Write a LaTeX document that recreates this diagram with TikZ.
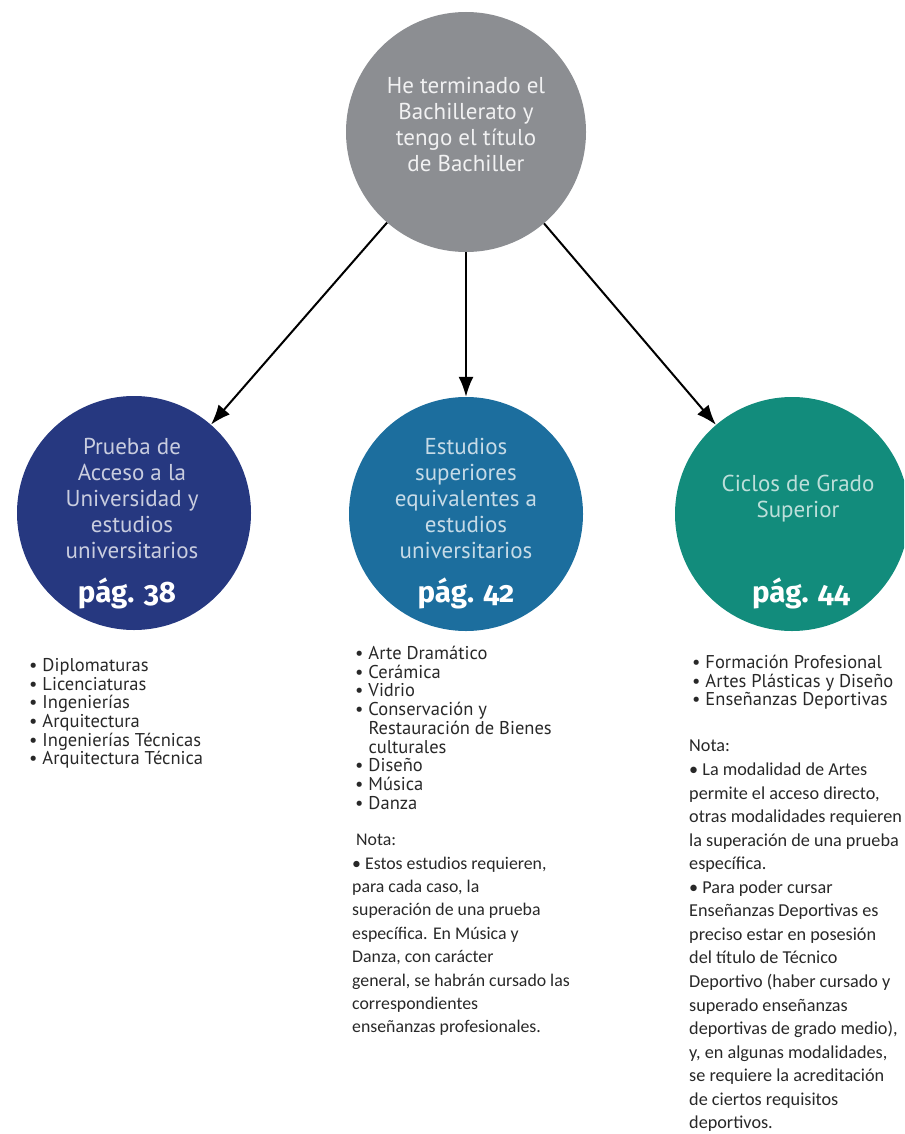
\documentclass[tikz,border=0pt]{standalone}
\usepackage{fontspec}
\setmainfont{Carlito}
\newfontfamily\circfont{PT Sans}
\newfontfamily\listfont{PT Sans}
\newfontfamily\pagfont{Fira Sans}[Numbers=OldStyle]
\usetikzlibrary{arrows.meta}
\definecolor{bachgray}{RGB}{140,142,146}
\definecolor{univblue}{RGB}{38,56,128}
\definecolor{supblue}{RGB}{28,110,158}
\definecolor{ciclgreen}{RGB}{18,140,124}
\definecolor{listgray}{RGB}{40,40,40}

\begin{document}
\begin{tikzpicture}[x=1pt,y=-1pt,
   bola/.style={circle,minimum size=234pt,inner sep=0pt},
   bolatxt/.style={align=center,font=\circfont\fontsize{23}{26}\selectfont},
   pag/.style={text=white,font=\pagfont\bfseries\fontsize{29.5}{32}\selectfont},
   lista/.style={anchor=north west,align=left,inner sep=0pt,text=listgray,font=\listfont\fontsize{18.5}{18.7}\selectfont},
   nota/.style={anchor=north west,align=left,inner sep=0pt,text=listgray,font=\fontsize{17.8}{23.4}\selectfont},
   flecha/.style={-{Latex[length=20pt,width=15pt]},line width=2pt}]
   \useasboundingbox (0,0) rectangle (904,1134);
   \clip (0,0) rectangle (904,1134);
   % circles
   \node[bola,minimum size=240pt,fill=bachgray] (bach) at (466,132) {};
   \node[bola,fill=univblue] (univ) at (134,513) {};
   \node[bola,fill=supblue] (sup) at (466,514) {};
   \node[bola,fill=ciclgreen] (cicl) at (792,514) {};
   \node[bolatxt,text=white!88!bachgray] (bachtxt) at (466,124)
     {He terminado el\\Bachillerato y\\tengo el título\\de Bachiller};
   \node[bolatxt,text=white!75!univblue] (univtxt) at (132,498)
     {Prueba de\\Acceso a la\\Universidad y\\estudios\\universitarios};
   \node[bolatxt,text=white!75!supblue] (suptxt) at (466,498)
     {Estudios\\superiores\\equivalentes a\\estudios\\universitarios};
   \node[bolatxt,text=white!72!ciclgreen] (cicltxt) at (798,499)
     {Ciclos de Grado\\Superior};
   \node[pag] (univpag) at (127,593) {pág. 38};
   \node[pag] (suppag) at (466,593) {pág. 42};
   \node[pag] (ciclpag) at (801,593) {pág. 44};
   % arrows
   \draw[flecha] (bach) -- (univ);
   \draw[flecha] (bach) -- (sup);
   \draw[flecha] (bach) -- (cicl);
   % lists
   \node[lista] (univlst) at (29,658)
     {\textbullet\ Diplomaturas\\\textbullet\ Licenciaturas\\\textbullet\ Ingenierías\\
      \textbullet\ Arquitectura\\\textbullet\ Ingenierías Técnicas\\\textbullet\ Arquitectura Técnica};
   \node[lista] (suplst) at (355,646)
     {\textbullet\ Arte Dramático\\\textbullet\ Cerámica\\\textbullet\ Vidrio\\
      \textbullet\ Conservación y\\\hphantom{\textbullet\ }Restauración de Bienes\\
      \hphantom{\textbullet\ }culturales\\\textbullet\ Diseño\\\textbullet\ Música\\\textbullet\ Danza};
   \node[lista] (cicllst) at (692,655)
     {\textbullet\ Formación Profesional\\\textbullet\ Artes Plásticas y Diseño\\
      \textbullet\ Enseñanzas Deportivas};
   % notes
   \node[nota] (supnota) at (352,834)
     {\ Nota:\\\textbullet\ Estos estudios requieren,\\para cada caso, la\\
      superación de una prueba\\específica. En Música y\\Danza, con carácter\\
      general, se habrán cursado las\\correspondientes\\enseñanzas profesionales.};
   \node[nota,font=\fontsize{18.2}{23.56}\selectfont] (ciclnota) at (689,740)
     {Nota:\\\textbullet\ La modalidad de Artes\\permite el acceso directo,\\
      otras modalidades requieren\\la superación de una prueba\\específica.\\
      \textbullet\ Para poder cursar\\Enseñanzas Deportivas es\\
      preciso estar en posesión\\del título de Técnico\\
      Deportivo (haber cursado y\\superado enseñanzas\\
      deportivas de grado medio),\\y, en algunas modalidades,\\
      se requiere la acreditación\\de ciertos requisitos\\deportivos.};
\end{tikzpicture}
\end{document}
